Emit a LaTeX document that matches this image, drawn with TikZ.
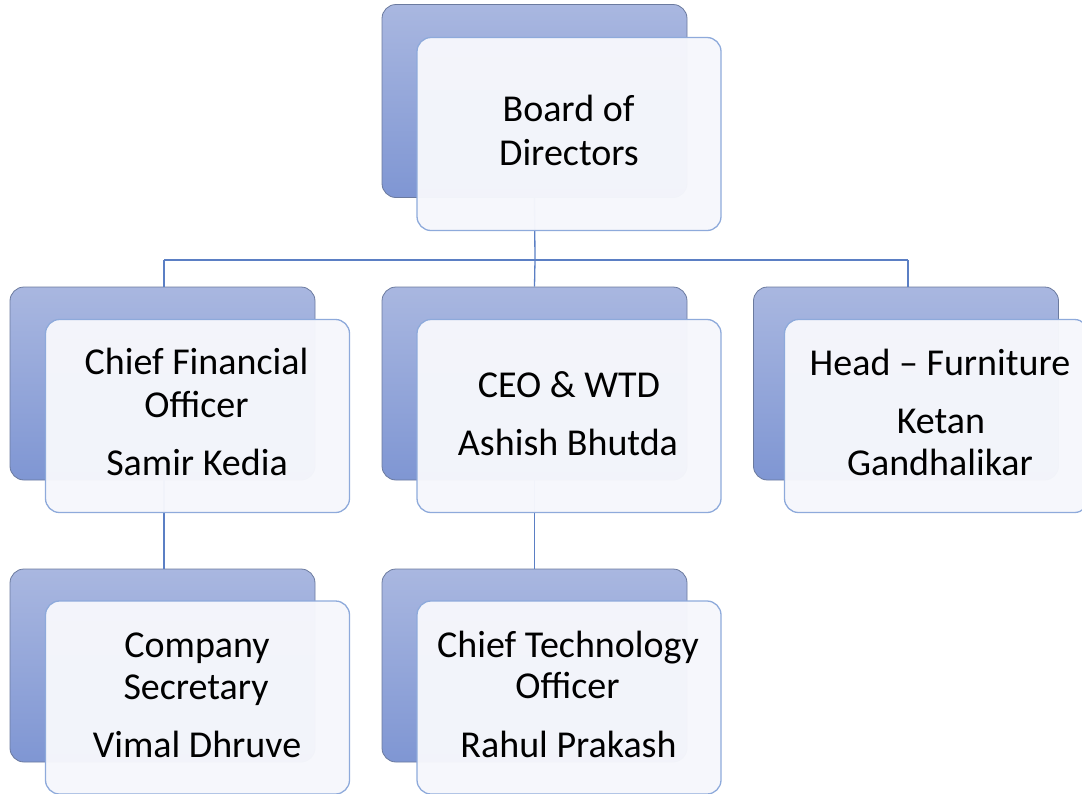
\documentclass[tikz,border=0pt]{standalone}
\usepackage{fontspec}
\setmainfont{Carlito}
\definecolor{backtop}{HTML}{A9B7E0}
\definecolor{backbot}{HTML}{7F96D3}
\definecolor{backedge}{HTML}{6B7A9E}
\definecolor{frontfill}{HTML}{F6F7FC}
\definecolor{frontedge}{HTML}{8EAADB}
\definecolor{linkcol}{HTML}{5B7FC4}
\tikzset{
  backbox/.style={draw=backedge, line width=0.8pt, rounded corners=14pt, top color=backtop, bottom color=backbot, minimum width=305pt, minimum height=193pt, inner sep=0pt},
  frontbox/.style={draw=frontedge, line width=1.3pt, rounded corners=14pt, fill=frontfill, fill opacity=0.97, minimum width=304pt, minimum height=193pt, inner sep=0pt},
  txt/.style={anchor=base, inner sep=0pt, font=\fontsize{38}{43}\selectfont, text=black},
  link/.style={draw=linkcol, line width=1.3pt}
}
\begin{document}
\begin{tikzpicture}[x=1pt,y=-1pt]
\useasboundingbox (0,0) rectangle (1082,793);
% back boxes
\node[backbox] (b0) at (534.5,101) {};
\node[backbox] (b1) at (162.5,383.5) {};
\node[backbox] (b2) at (534.5,383.5) {};
\node[backbox] (b3) at (906,383.5) {};
\node[backbox] (b4) at (162.5,665.5) {};
\node[backbox] (b5) at (534.5,665.5) {};
% connectors
\coordinate (j0) at (535,260);
\coordinate (j1) at (164,260);
\coordinate (j3) at (908,260);
\draw[link] (b0.south) -- (j0);
\draw[link] (j1) -- (j3);
\draw[link] (j1) -- (j1 |- b1.north);
\draw[link] (j0) -- (b2.north);
\draw[link] (j3) -- (j3 |- b3.north);
\draw[link] (b1.south -| j1) -- (j1 |- b4.north);
\draw[link] (b2.south) -- (b5.north);
% front boxes
\node[frontbox] (f0) at (569,134) {};
\node[frontbox] (f1) at (197.5,416) {};
\node[frontbox] (f2) at (569,416) {};
\node[frontbox] (f3) at (936.5,416) {};
\node[frontbox] (f4) at (197.5,697.5) {};
\node[frontbox] (f5) at (569,697.5) {};
% texts
\node[txt] (t0a) at (568.5,121) {Board of};
\node[txt] (t0b) at (569,165) {Directors};
\node[txt] (t1a) at (196.5,374) {Chief Financial};
\node[txt] (t1b) at (196.5,417) {Officer};
\node[txt] (t1c) at (197,475) {Samir Kedia};
\node[txt] (t2a) at (569,397) {CEO \& WTD};
\node[txt] (t2b) at (568,455) {Ashish Bhutda};
\node[txt] (t3a) at (940,375) {Head – Furniture};
\node[txt] (t3b) at (941,433) {Ketan};
\node[txt] (t3c) at (940,475) {Gandhalikar};
\node[txt] (t4a) at (197,657) {Company};
\node[txt] (t4b) at (196,699) {Secretary};
\node[txt] (t4c) at (197,757) {Vimal Dhruve};
\node[txt] (t5a) at (568,657) {Chief Technology};
\node[txt] (t5b) at (567.5,698) {Officer};
\node[txt] (t5c) at (568.5,757) {Rahul Prakash};
\end{tikzpicture}
\end{document}
